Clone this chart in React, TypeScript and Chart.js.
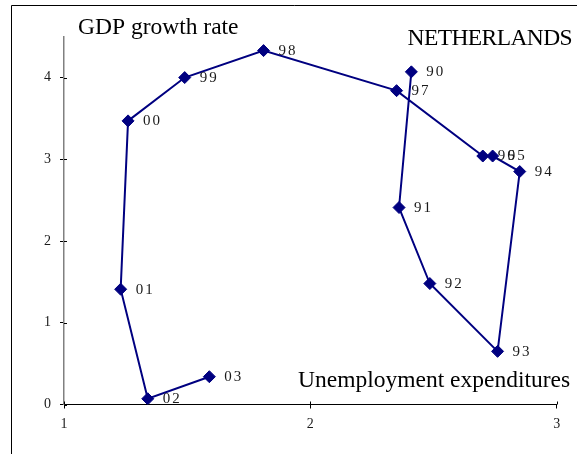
import React, { useEffect, useRef } from 'react';
import { Chart, registerables } from 'chart.js';

Chart.register(...registerables);

const years = ['90', '91', '92', '93', '94', '95', '96', '97', '98', '99', '00', '01', '02', '03'];
const unemploymentExp = [2.41, 2.36, 2.485, 2.76, 2.85, 2.74, 2.7, 2.35, 1.81, 1.49, 1.26, 1.23, 1.34, 1.59];
const gdpGrowth = [4.07, 2.41, 1.48, 0.65, 2.85, 3.04, 3.04, 3.84, 4.33, 4.0, 3.47, 1.41, 0.07, 0.34];
const xTicks = [1, 2, 3];
const yTicks = [0, 1, 2, 3, 4];
const yTitle = 'GDP growth rate';
const xTitle = 'Unemployment expenditures';
const countryTitle = 'NETHERLANDS';

const SERIF = '"Liberation Serif", "Times New Roman", serif';
const NAVY = '#000080';

const decorPlugin = {
  id: 'decor',
  beforeDraw(chart: any) {
    const ctx = chart.ctx;
    ctx.save();
    ctx.fillStyle = '#ffffff';
    ctx.fillRect(0, 0, chart.width, chart.height);
    ctx.strokeStyle = '#000000';
    ctx.lineWidth = 1;
    ctx.beginPath();
    ctx.moveTo(11.5, chart.height);
    ctx.lineTo(11.5, 5.5);
    ctx.lineTo(chart.width, 5.5);
    ctx.stroke();
    ctx.restore();
  },
  afterDraw(chart: any) {
    const ctx = chart.ctx;
    const xs = chart.scales.x;
    const ys = chart.scales.y;
    ctx.save();
    // inward half of the crossing tick marks
    ctx.strokeStyle = '#000000';
    ctx.lineWidth = 1;
    ctx.beginPath();
    xTicks.forEach((v) => {
      const px = Math.round(xs.getPixelForValue(v)) + 0.5;
      ctx.moveTo(px, ys.bottom);
      ctx.lineTo(px, ys.bottom - 3);
    });
    yTicks.forEach((v) => {
      const py = Math.round(ys.getPixelForValue(v)) + 0.5;
      ctx.moveTo(xs.left, py);
      ctx.lineTo(xs.left + 3, py);
    });
    ctx.stroke();

    // titles
    ctx.fillStyle = '#000000';
    ctx.font = `23.5px ${SERIF}`;
    ctx.textBaseline = 'alphabetic';
    ctx.textAlign = 'left';
    ctx.fillText(yTitle, 78, 34);
    ctx.fillText(xTitle, 298, 386.5);
    (ctx as any).letterSpacing = '-0.6px';
    ctx.textAlign = 'right';
    ctx.fillText(countryTitle, 572, 44.5);
    (ctx as any).letterSpacing = '0px';

    // point labels
    const meta = chart.getDatasetMeta(0);
    ctx.font = `15px ${SERIF}`;
    ctx.fillStyle = '#1a1a1a';
    ctx.textAlign = 'left';
    ctx.textBaseline = 'middle';
    (ctx as any).letterSpacing = '2px';
    meta.data.forEach((pt: any, i: number) => {
      ctx.fillText(years[i], pt.x + 15, pt.y + 0.5);
    });
    ctx.restore();
  },
};

export default function App() {
  const ref = useRef<HTMLCanvasElement | null>(null);
  useEffect(() => {
    if (!ref.current) return;
    const chart = new Chart(ref.current, {
      type: 'scatter',
      data: {
        datasets: [
          {
            data: unemploymentExp.map((x, i) => ({ x, y: gdpGrowth[i] })),
            showLine: true,
            borderColor: NAVY,
            borderWidth: 2,
            backgroundColor: NAVY,
            pointStyle: 'rectRot',
            pointRadius: 6,
            pointHoverRadius: 6,
            pointBackgroundColor: NAVY,
            pointBorderColor: NAVY,
            pointBorderWidth: 1,
            tension: 0,
          },
        ],
      },
      options: {
        responsive: false,
        devicePixelRatio: 1,
        animation: false,
        events: [],
        layout: { padding: { top: 36.7, right: 20.3, left: 0, bottom: 0 } },
        plugins: { legend: { display: false }, tooltip: { enabled: false } },
        scales: {
          x: {
            type: 'linear',
            min: 1,
            max: 3,
            afterBuildTicks: (scale: any) => {
              scale.ticks = xTicks.map((v) => ({ value: v }));
            },
            afterFit: (scale: any) => {
              scale.height = 49.5;
            },
            ticks: {
              color: '#1a1a1a',
              font: { family: SERIF, size: 14 },
              padding: 7,
            },
            grid: {
              display: true,
              drawOnChartArea: false,
              drawTicks: true,
              tickLength: 4,
              color: '#000000',
            },
            border: { display: true, color: '#000000', width: 1 },
          },
          y: {
            type: 'linear',
            min: 0,
            max: 4.5,
            afterBuildTicks: (scale: any) => {
              scale.ticks = yTicks.map((v) => ({ value: v }));
            },
            afterFit: (scale: any) => {
              scale.width = 64;
            },
            ticks: {
              color: '#1a1a1a',
              font: { family: SERIF, size: 14 },
              padding: 9,
            },
            grid: {
              display: true,
              drawOnChartArea: false,
              drawTicks: true,
              tickLength: 4,
              color: '#000000',
            },
            border: { display: true, color: '#808080', width: 1.5 },
          },
        },
      },
      plugins: [decorPlugin],
    } as any);
    return () => chart.destroy();
  }, []);

  return (
    <div style={{ position: 'fixed', left: 0, top: 0, width: 577, height: 454, background: '#fff' }}>
      <canvas ref={ref} width={577} height={454} style={{ display: 'block' }} />
    </div>
  );
}
